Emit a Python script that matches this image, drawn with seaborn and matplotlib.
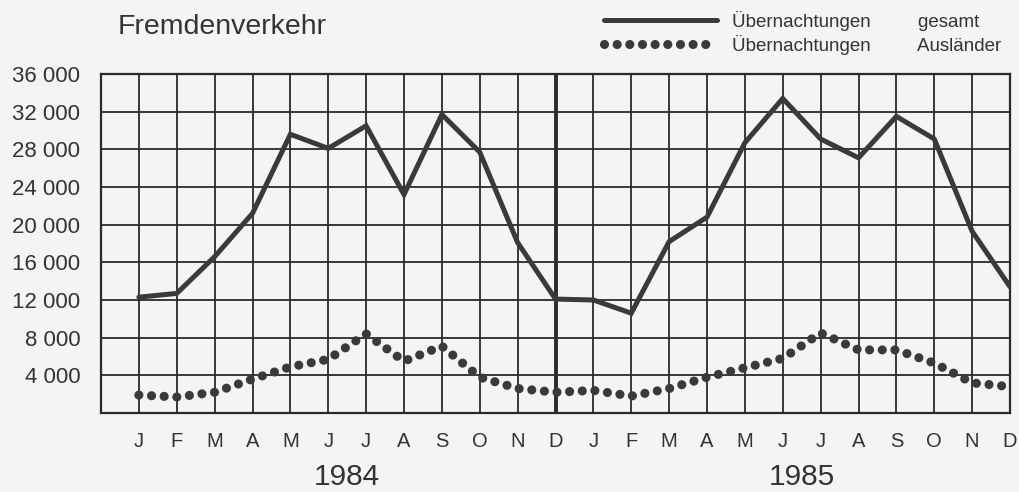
import numpy as np
import pandas as pd
import matplotlib
matplotlib.use("Agg")
import matplotlib.pyplot as plt
import seaborn as sns

months = ["J", "F", "M", "A", "M", "J", "J", "A", "S", "O", "N", "D"]
years = ["1984", "1985"]
month_labels = months + months
total = [12300, 12700, 16600, 21200, 29600, 28100, 30500, 23200, 31700, 27700, 18100, 12100,
         12000, 10600, 18200, 20800, 28700, 33400, 29100, 27100, 31500, 29100, 19300, 13400]
foreign = [1900, 1700, 2200, 3600, 4900, 5700, 8400, 5500, 7100, 3800, 2600, 2200,
           2400, 1800, 2600, 3800, 4800, 5800, 8500, 6700, 6700, 5300, 3200, 2800]
yticks = list(range(4000, 36001, 4000))
label_total = "Übernachtungen         gesamt"
label_foreign = "Übernachtungen         Ausländer"
title = "Fremdenverkehr"

df = pd.DataFrame({"idx": np.arange(len(total)), "total": total, "foreign": foreign})

sns.set_theme(style="white")
plt.rcParams["font.family"] = ["Liberation Sans", "DejaVu Sans"]
bg = "#f4f4f2"
ink = "#333333"
plt.rcParams["figure.facecolor"] = bg
plt.rcParams["axes.facecolor"] = bg

fig = plt.figure(figsize=(10.19, 4.92), dpi=100)
ax = fig.add_axes([101/1019, 1-413/492, (1010-101)/1019, (413-74)/492])

sns.lineplot(data=df, x="idx", y="total", ax=ax, color="#3a3a3a", lw=3.6,
             solid_joinstyle="miter", label=label_total, zorder=4)
sns.lineplot(data=df, x="idx", y="foreign", ax=ax, color="#3a3a3a", lw=6.6,
             linestyle=(0, (0.001, 1.38)), dash_capstyle="round", label=label_foreign, zorder=4)

ax.set_xlim(-1, 23)
ax.set_ylim(0, 36000)
ax.set_xticks(range(24))
ax.set_xticklabels(month_labels)
ax.set_yticks(yticks)
ax.set_yticklabels([f"{v:,}".replace(",", " ") for v in yticks])
ax.set_xlabel("")
ax.set_ylabel("")
ax.grid(True, color="#2a2a2a", lw=1.3, zorder=1)
ax.set_axisbelow(True)
ax.axvline(11, color="#2a2a2a", lw=2.8, zorder=2)
for s in ax.spines.values():
    s.set_color("#2a2a2a")
    s.set_linewidth(1.6)
ax.tick_params(axis="x", length=0, pad=14, labelsize=14.5, colors=ink)
ax.tick_params(axis="y", length=0, pad=15, labelsize=16, colors=ink)

for i, yr in enumerate(years):
    ax.text(5.5 + 12 * i, -0.19, yr, transform=ax.get_xaxis_transform(),
            ha="center", va="center", fontsize=21.5, color=ink)

fig.text(118/1019, 1-27/492, title, ha="left", va="center", fontsize=20.5, color=ink)

leg = ax.legend(loc="upper left", bbox_to_anchor=(604/1019, 1-11/492), bbox_transform=fig.transFigure,
                frameon=False, fontsize=13.5, handlelength=6.0, handletextpad=0.85,
                labelspacing=0.2, borderpad=0, borderaxespad=0)
for t in leg.get_texts():
    t.set_color(ink)

fig.savefig("out.png", dpi=100, facecolor=bg)
